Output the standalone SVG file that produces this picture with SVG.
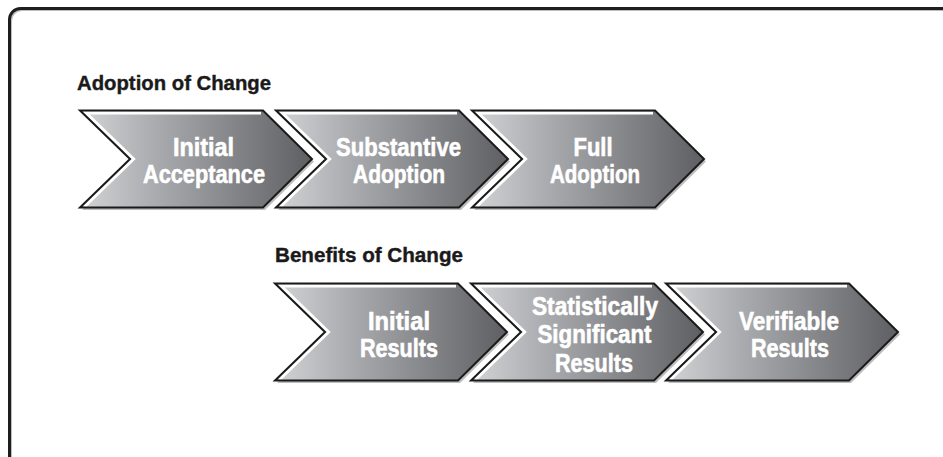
<svg xmlns="http://www.w3.org/2000/svg" xmlns:xlink="http://www.w3.org/1999/xlink" width="943" height="457" viewBox="0 0 943 457">
  <style>
    .lbl { font-family: "Liberation Sans Narrow", "Liberation Sans", Arial, sans-serif; font-weight: bold; font-size: 25px; fill: #ffffff; stroke: #ffffff; stroke-width: 0.6; text-anchor: middle; }
    .head { font-family: "Liberation Sans Narrow", "Liberation Sans", Arial, sans-serif; font-weight: bold; font-size: 21px; fill: #1a1a1a; stroke: #1a1a1a; stroke-width: 0.4; }
    .shadow { fill: #bdbdbd; }
    .body { fill: url(#grad); }
    .hl { fill: none; stroke: #ffffff; stroke-width: 3; stroke-linejoin: miter; }
    .outline { fill: none; stroke: #1a1a1a; stroke-width: 2; stroke-linejoin: miter; }
  </style>
  <defs>
    <linearGradient id="grad" x1="0" y1="0" x2="1" y2="0">
      <stop offset="0" stop-color="#d3d4d6"/>
      <stop offset="0.3" stop-color="#adaeb1"/>
      <stop offset="1" stop-color="#5e5f62"/>
    </linearGradient>
    <polygon id="chev" points="0,0 183,0 232,48.5 183,97 0,97 50,48.5"/>
  </defs>
  <rect width="943" height="457" fill="#ffffff"/>
  <g id="frame">
    <rect x="11" y="10" width="960" height="480" rx="11" fill="none" stroke="#bdbdbd" stroke-width="2"/>
    <rect x="9.5" y="8.5" width="960" height="480" rx="11" fill="none" stroke="#1e1e1e" stroke-width="3"/>
  </g>
  <g id="heading-adoption">
    <text class="head" x="77" y="89.5" textLength="194" lengthAdjust="spacingAndGlyphs">Adoption of Change</text>
  </g>
  <g id="heading-benefits">
    <text class="head" x="275" y="262.3" textLength="188" lengthAdjust="spacingAndGlyphs">Benefits of Change</text>
  </g>

  <g id="initial-acceptance" transform="translate(80,110.5)">
    <use xlink:href="#chev" class="shadow" transform="translate(2,2.5)"/>
    <use xlink:href="#chev" class="body"/>
    <polyline class="hl" points="181,2.5 6.2,2.5 53.6,48.5 4.6,96"/>
    <use xlink:href="#chev" class="outline"/>
    <text class="lbl" x="123.5" y="45.5" textLength="61" lengthAdjust="spacingAndGlyphs">Initial</text>
    <text class="lbl" x="124" y="72.5" textLength="122" lengthAdjust="spacingAndGlyphs">Acceptance</text>
  </g>
  <g id="substantive-adoption" transform="translate(276,110.5)">
    <use xlink:href="#chev" class="shadow" transform="translate(2,2.5)"/>
    <use xlink:href="#chev" class="body"/>
    <polyline class="hl" points="181,2.5 6.2,2.5 53.6,48.5 4.6,96"/>
    <use xlink:href="#chev" class="outline"/>
    <text class="lbl" x="122.5" y="45.5" textLength="125" lengthAdjust="spacingAndGlyphs">Substantive</text>
    <text class="lbl" x="123" y="72.5" textLength="92" lengthAdjust="spacingAndGlyphs">Adoption</text>
  </g>
  <g id="full-adoption" transform="translate(472,110.5)">
    <use xlink:href="#chev" class="shadow" transform="translate(2,2.5)"/>
    <use xlink:href="#chev" class="body"/>
    <polyline class="hl" points="181,2.5 6.2,2.5 53.6,48.5 4.6,96"/>
    <use xlink:href="#chev" class="outline"/>
    <text class="lbl" x="121" y="45.5" textLength="39" lengthAdjust="spacingAndGlyphs">Full</text>
    <text class="lbl" x="123" y="72.5" textLength="90" lengthAdjust="spacingAndGlyphs">Adoption</text>
  </g>

  <g id="initial-results" transform="translate(275,283.5)">
    <use xlink:href="#chev" class="shadow" transform="translate(2,2.5)"/>
    <use xlink:href="#chev" class="body"/>
    <polyline class="hl" points="181,2.5 6.2,2.5 53.6,48.5 4.6,96"/>
    <use xlink:href="#chev" class="outline"/>
    <text class="lbl" x="124" y="46.5" textLength="62" lengthAdjust="spacingAndGlyphs">Initial</text>
    <text class="lbl" x="124" y="73.5" textLength="78" lengthAdjust="spacingAndGlyphs">Results</text>
  </g>
  <g id="statistically-significant-results" transform="translate(471,283.5)">
    <use xlink:href="#chev" class="shadow" transform="translate(2,2.5)"/>
    <use xlink:href="#chev" class="body"/>
    <polyline class="hl" points="181,2.5 6.2,2.5 53.6,48.5 4.6,96"/>
    <use xlink:href="#chev" class="outline"/>
    <text class="lbl" x="124" y="31.5" textLength="126" lengthAdjust="spacingAndGlyphs">Statistically</text>
    <text class="lbl" x="123.5" y="59.5" textLength="114" lengthAdjust="spacingAndGlyphs">Significant</text>
    <text class="lbl" x="123" y="88" textLength="78" lengthAdjust="spacingAndGlyphs">Results</text>
  </g>
  <g id="verifiable-results" transform="translate(666,283.5)">
    <use xlink:href="#chev" class="shadow" transform="translate(2,2.5)"/>
    <use xlink:href="#chev" class="body"/>
    <polyline class="hl" points="181,2.5 6.2,2.5 53.6,48.5 4.6,96"/>
    <use xlink:href="#chev" class="outline"/>
    <text class="lbl" x="123" y="46.5" textLength="100" lengthAdjust="spacingAndGlyphs">Verifiable</text>
    <text class="lbl" x="124" y="73.5" textLength="78" lengthAdjust="spacingAndGlyphs">Results</text>
  </g>
</svg>
